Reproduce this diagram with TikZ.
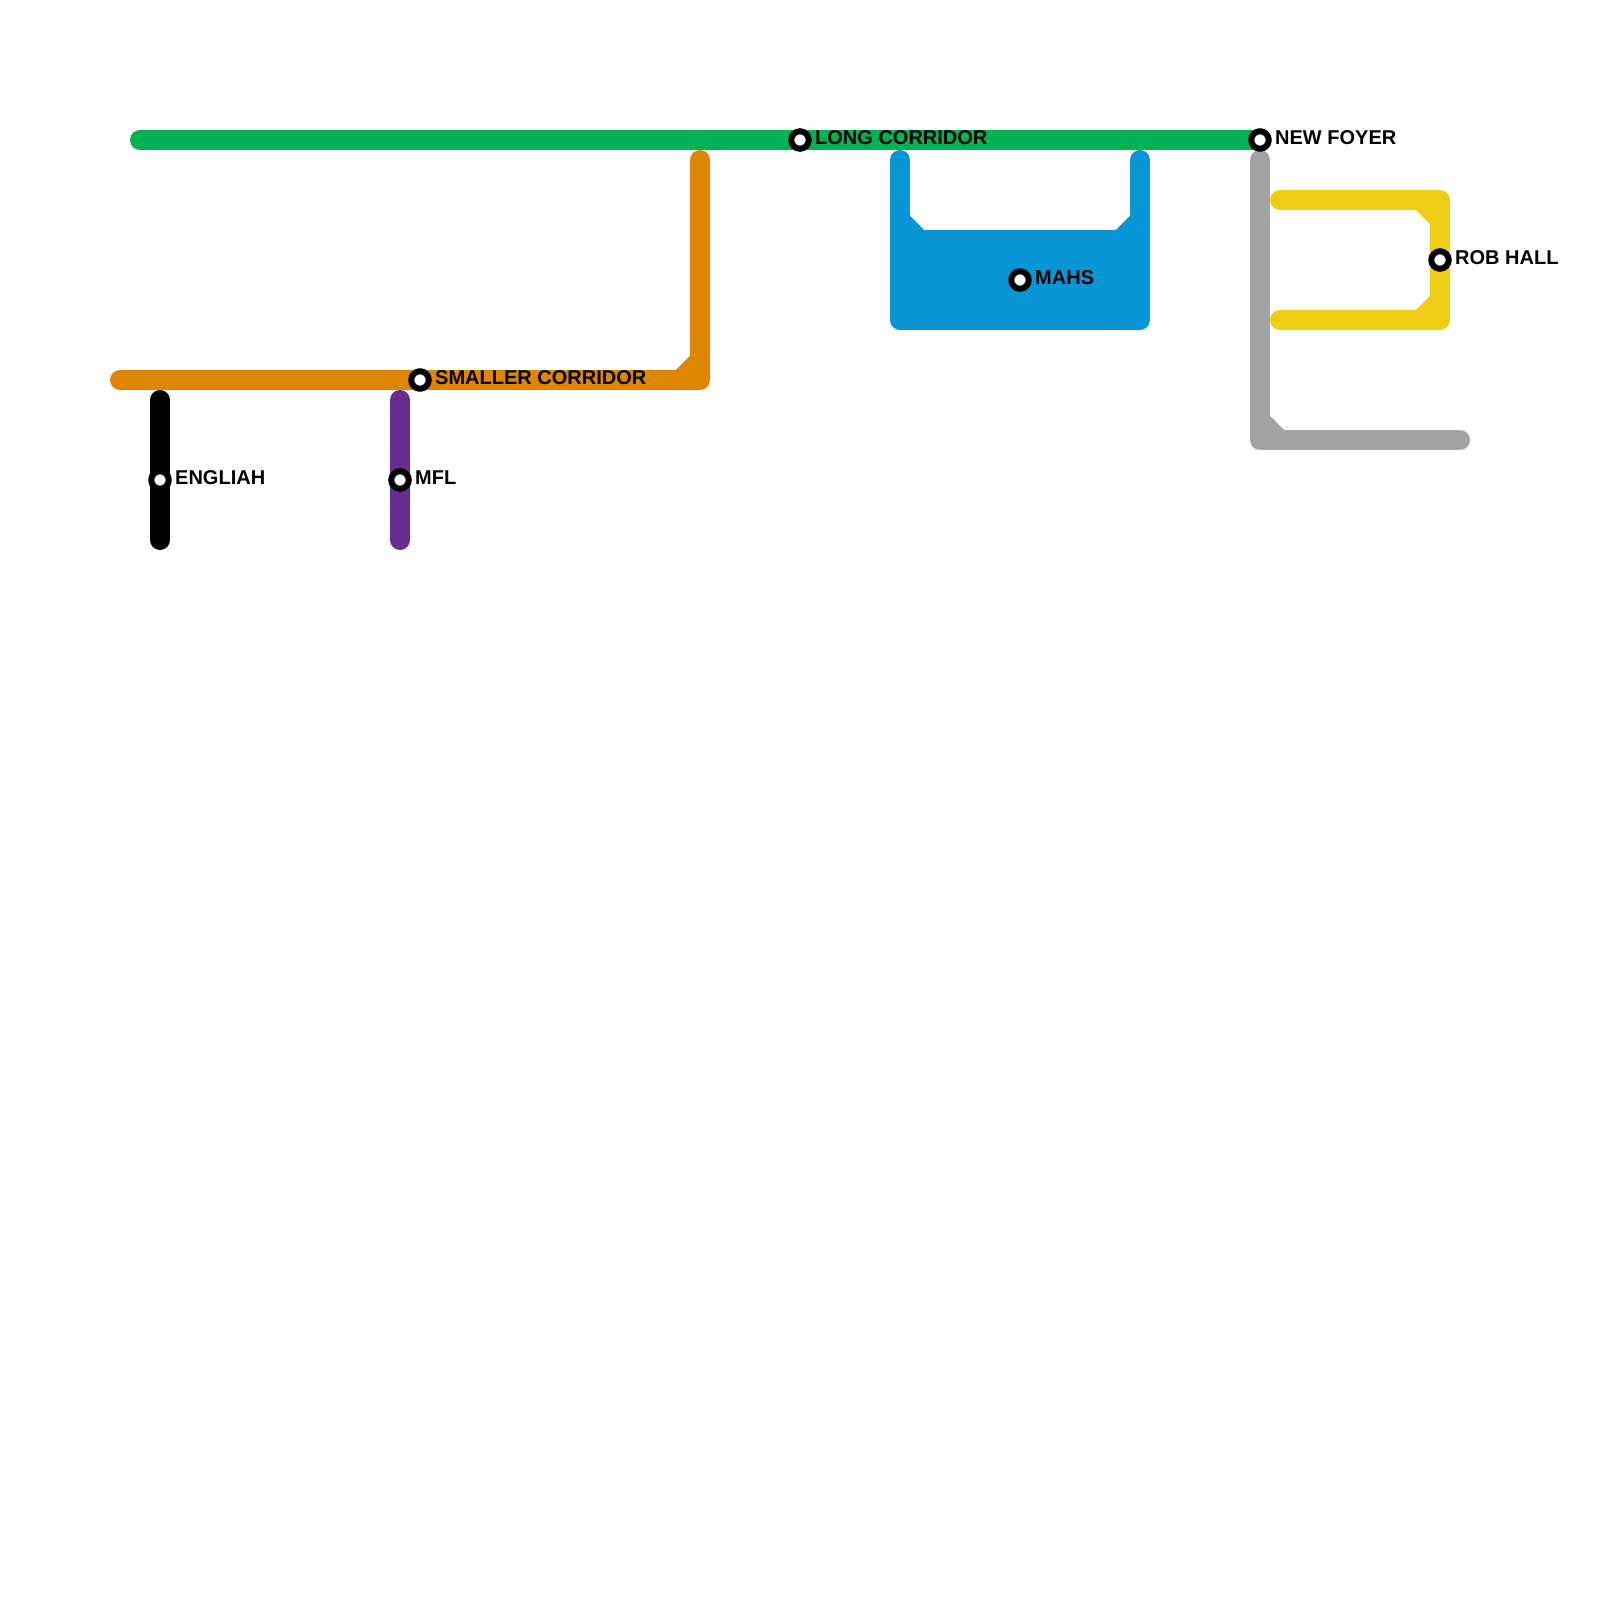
\documentclass[tikz,border=0pt]{standalone}
\usepackage{fontspec}
\setmainfont{Liberation Sans}
\definecolor{cgreen}{HTML}{00B251}
\definecolor{corange}{HTML}{DF8600}
\definecolor{cblue}{HTML}{0896D7}
\definecolor{cyellow}{HTML}{F0CE15}
\definecolor{cgray}{HTML}{A1A2A3}
\definecolor{cpurple}{HTML}{662C90}
\begin{document}
\begin{tikzpicture}[x=1pt,y=-1pt,
  route/.style={line width=20pt,line cap=round,line join=round},
  stn/.style={circle,draw=black,fill=white,line width=6pt,minimum size=17.5pt,inner sep=0pt},
  lbl/.style={anchor=west,inner sep=0pt,text=black,font=\fontsize{20pt}{24pt}\selectfont\bfseries}]
\useasboundingbox[fill=white] (0,0) rectangle (1600,1600);
% route vertices
\coordinate (g0) at (140,140);
\coordinate (o0) at (120,380); \coordinate (o1) at (700,380); \coordinate (o2) at (700,160);
\coordinate (o3) at (680,380); \coordinate (o4) at (700,360);
\coordinate (b0) at (900,160); \coordinate (b1) at (900,320); \coordinate (b2) at (1140,320); \coordinate (b3) at (1140,160);
\coordinate (b4) at (900,240); \coordinate (b5) at (1140,240);
\coordinate (b6) at (900,220); \coordinate (b7) at (920,240); \coordinate (b8) at (1140,220); \coordinate (b9) at (1120,240);
\coordinate (r0) at (1260,160); \coordinate (r1) at (1260,440); \coordinate (r2) at (1460,440);
\coordinate (r3) at (1260,420); \coordinate (r4) at (1280,440);
\coordinate (y0) at (1280,200); \coordinate (y1) at (1440,200); \coordinate (y2) at (1440,320); \coordinate (y3) at (1280,320);
\coordinate (y4) at (1420,200); \coordinate (y5) at (1440,220); \coordinate (y6) at (1440,300); \coordinate (y7) at (1420,320);
\coordinate (k0) at (160,400); \coordinate (k1) at (160,540);
\coordinate (p0) at (400,400); \coordinate (p1) at (400,540);
% station positions
\coordinate (lcp) at (800,140); \coordinate (nfp) at (1260,140); \coordinate (scp) at (420,380);
\coordinate (enp) at (160,480); \coordinate (mfp) at (400,480); \coordinate (map) at (1020,280); \coordinate (rbp) at (1440,260);
% lines
\draw[route,cgreen] (g0) -- (nfp);
\draw[route,corange] (o0) -- (o1) -- (o2);
\draw[route,corange] (o3) -- (o4);
\draw[route,cblue] (b0) -- (b1) -- (b2) -- (b3);
\fill[cblue] (b4) rectangle (b2);
\draw[route,cblue] (b4) -- (b5);
\draw[route,cblue] (b6) -- (b7);
\draw[route,cblue] (b8) -- (b9);
\draw[route,cgray] (r0) -- (r1) -- (r2);
\draw[route,cgray] (r3) -- (r4);
\draw[route,cyellow] (y0) -- (y1) -- (y2) -- (y3);
\draw[route,cyellow] (y4) -- (y5);
\draw[route,cyellow] (y6) -- (y7);
\draw[route,black] (k0) -- (k1);
\draw[route,cpurple] (p0) -- (p1);
% stations
\node[stn] (lc) at (lcp) {};
\node[stn] (nf) at (nfp) {};
\node[stn] (sc) at (scp) {};
\node[stn] (en) at (enp) {};
\node[stn] (mf) at (mfp) {};
\node[stn] (ma) at (map) {};
\node[stn] (rb) at (rbp) {};
% labels
\node[lbl] (lcl) at ([xshift=15pt,yshift=2pt]lc.center) {LONG CORRIDOR};
\node[lbl] (nfl) at ([xshift=15pt,yshift=2pt]nf.center) {NEW FOYER};
\node[lbl] (scl) at ([xshift=15pt,yshift=2pt]sc.center) {SMALLER CORRIDOR};
\node[lbl] (enl) at ([xshift=15pt,yshift=2pt]en.center) {ENGLIAH};
\node[lbl] (mfl) at ([xshift=15pt,yshift=2pt]mf.center) {MFL};
\node[lbl] (mal) at ([xshift=15pt,yshift=2pt]ma.center) {MAHS};
\node[lbl] (rbl) at ([xshift=15pt,yshift=2pt]rb.center) {ROB HALL};
\end{tikzpicture}
\end{document}
